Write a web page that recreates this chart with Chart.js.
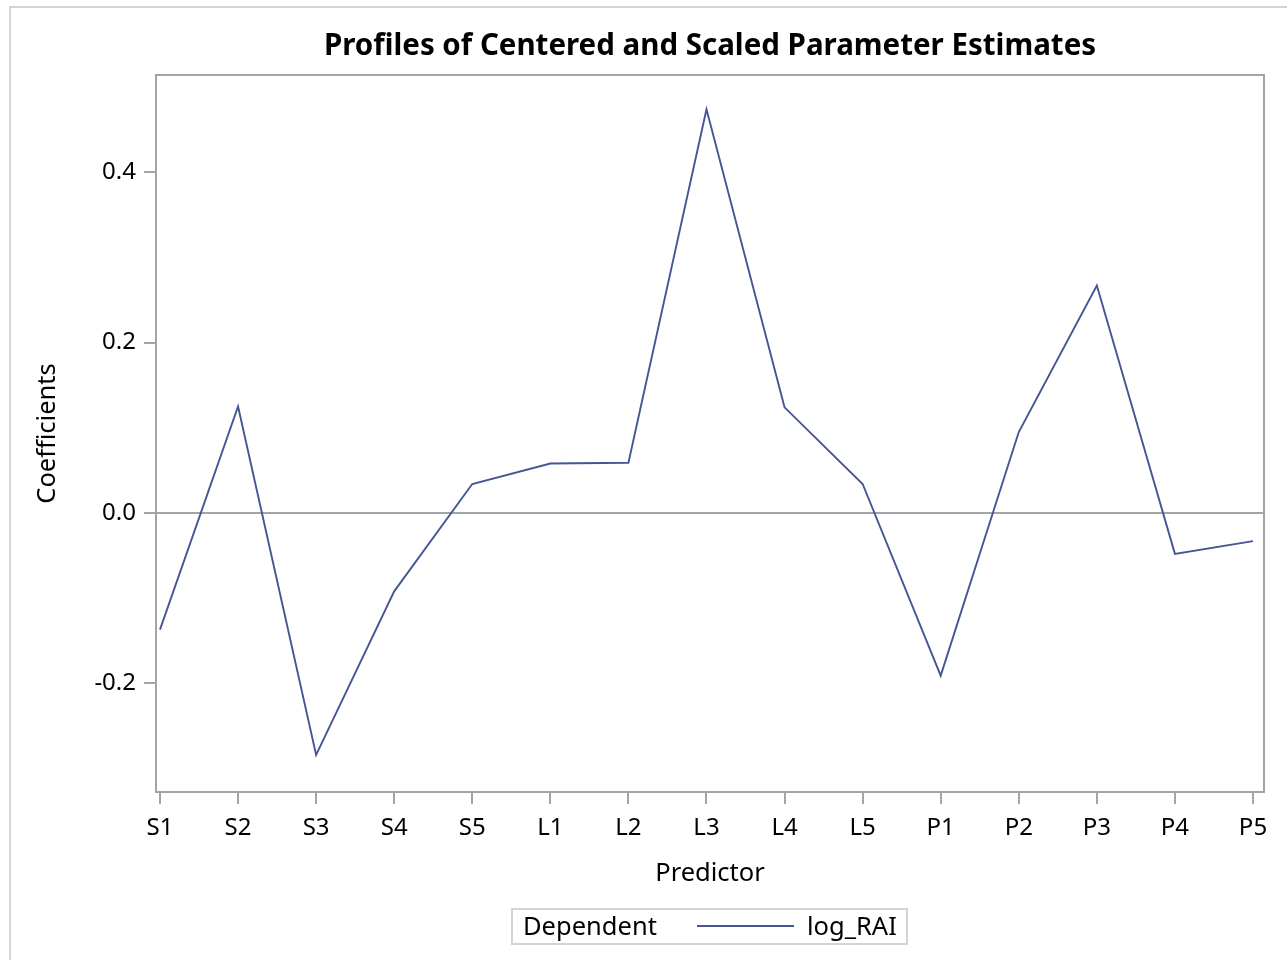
<!DOCTYPE html>
<html>
<head>
<meta charset="utf-8">
<script src="https://cdn.jsdelivr.net/npm/chart.js@4.4.1/dist/chart.umd.min.js"></script>
<style>
  body { margin: 0; background: #fff; }
  #wrap { width: 1287px; height: 960px; }
</style>
</head>
<body>
<div id="wrap"><canvas id="chart"></canvas></div>
<script>
// values
const predictors = ['S1','S2','S3','S4','S5','L1','L2','L3','L4','L5','P1','P2','P3','P4','P5'];
const logRAI = [-0.137, 0.125, -0.284, -0.092, 0.034, 0.058, 0.059, 0.474, 0.124, 0.034, -0.191, 0.095, 0.267, -0.048, -0.033];
const yTicks = [-0.2, 0.0, 0.2, 0.4];

const lineColor = '#445694';
const axisColor = '#a1a5a9';
const fontName = '"Noto Sans", "DejaVu Sans", sans-serif';

const extras = {
    id: 'extras',
    beforeDatasetsDraw(chart) {
        const ctx = chart.ctx;
        const a = chart.chartArea;
        const y0 = chart.scales.y.getPixelForValue(0);
        ctx.save();
        ctx.strokeStyle = axisColor;
        ctx.lineWidth = 2;
        ctx.beginPath();
        ctx.moveTo(a.left, y0);
        ctx.lineTo(a.right, y0);
        ctx.stroke();
        ctx.restore();
    },
    afterDraw(chart) {
        const ctx = chart.ctx;
        const a = chart.chartArea;
        ctx.save();
        // outer frame of the graph (only top/left visible)
        ctx.strokeStyle = '#d4d4d4';
        ctx.lineWidth = 2;
        ctx.beginPath();
        ctx.moveTo(10, 960);
        ctx.lineTo(10, 7);
        ctx.lineTo(1287, 7);
        ctx.stroke();

        // plot frame
        ctx.strokeStyle = axisColor;
        ctx.lineWidth = 2;
        ctx.strokeRect(a.left, a.top, a.right - a.left, a.bottom - a.top);

        ctx.fillStyle = '#000';
        ctx.textAlign = 'center';
        ctx.textBaseline = 'middle';
        ctx.font = 'bold 29.5px ' + fontName;
        ctx.fillText('Profiles of Centered and Scaled Parameter Estimates', (a.left + a.right) / 2, 47);

        ctx.font = '25.5px ' + fontName;
        ctx.fillText('Predictor', (a.left + a.right) / 2, 874);

        ctx.save();
        ctx.translate(48, (a.top + a.bottom) / 2);
        ctx.rotate(-Math.PI / 2);
        ctx.fillText('Coefficients', 0, 0);
        ctx.restore();

        // legend
        ctx.strokeStyle = '#d4d4d4';
        ctx.lineWidth = 2;
        ctx.strokeRect(512, 909, 395, 35);
        ctx.textAlign = 'left';
        ctx.fillText('Dependent', 523, 928);
        ctx.fillText('log_RAI', 807, 928);
        ctx.strokeStyle = lineColor;
        ctx.lineWidth = 2;
        ctx.beginPath();
        ctx.moveTo(697, 926);
        ctx.lineTo(794, 926);
        ctx.stroke();
        ctx.restore();
    }
};

const data = {
    datasets: [{
        label: 'log_RAI',
        data: logRAI.map((v, i) => ({ x: i, y: v })),
        borderColor: lineColor,
        borderWidth: 1.9,
        pointRadius: 0,
        tension: 0
    }]
};

const config = {
    type: 'line',
    data: data,
    options: {
        responsive: false,
        animation: false,
        layout: { padding: { top: 75, right: 23, left: 0, bottom: 0 } },
        plugins: {
            legend: { display: false },
            title: { display: false },
            tooltip: { enabled: false }
        },
        scales: {
            x: {
                type: 'linear',
                min: -0.051,
                max: 14.141,
                afterFit: (s) => { s.height = 168; },
                afterBuildTicks: (s) => { s.ticks = predictors.map((p, i) => ({ value: i })); },
                grid: { drawOnChartArea: false, drawTicks: true, tickLength: 12, tickColor: axisColor, lineWidth: 2 },
                border: { display: false },
                ticks: {
                    callback: (v) => predictors[v],
                    color: '#000',
                    font: { family: fontName, size: 24 },
                    padding: 10,
                    maxRotation: 0,
                    autoSkip: false
                }
            },
            y: {
                min: -0.3276,
                max: 0.5142,
                afterFit: (s) => { s.width = 156; },
                afterBuildTicks: (s) => { s.ticks = yTicks.map(v => ({ value: v })); },
                grid: { drawOnChartArea: false, drawTicks: true, tickLength: 12, tickColor: axisColor, lineWidth: 2 },
                border: { display: false },
                ticks: {
                    callback: (v) => v.toFixed(1),
                    color: '#000',
                    font: { family: fontName, size: 24 },
                    padding: 8
                }
            }
        }
    },
    plugins: [extras]
};

const canvas = document.getElementById('chart');
canvas.width = 1287;
canvas.height = 960;
new Chart(canvas.getContext('2d'), config);
</script>
</body>
</html>
